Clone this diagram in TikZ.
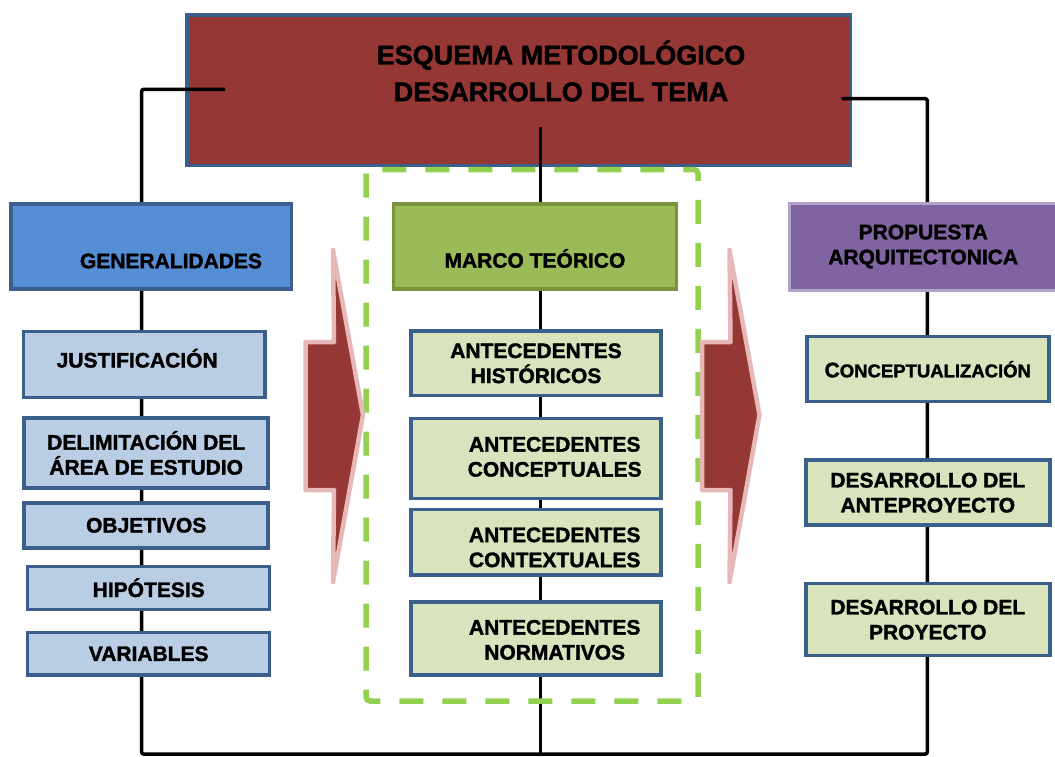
\documentclass[tikz,border=0pt]{standalone}
\usepackage{fontspec}
\setmainfont{Liberation Sans}[BoldFeatures={FakeBold=1.6}]
\usepackage{tikz}
\usetikzlibrary{positioning}

\definecolor{titlered}{HTML}{953735}
\definecolor{boxline}{HTML}{3A5F8B}
\definecolor{genblue}{HTML}{558ED5}
\definecolor{lightblue}{HTML}{B9CDE5}
\definecolor{marcogreen}{HTML}{9BBB59}
\definecolor{marcoline}{HTML}{77933C}
\definecolor{lightgreen}{HTML}{D7E4BD}
\definecolor{propviolet}{HTML}{8064A2}
\definecolor{propline}{HTML}{B3A2C7}
\definecolor{arrowpink}{HTML}{E6B9B8}
\definecolor{dashgreen}{HTML}{92D050}

\tikzset{
  boxtxt/.style={font=\fontsize{21}{25}\selectfont\bfseries, align=center},
  box/.style={rectangle, draw=boxline, line width=3.5pt, inner sep=2pt, boxtxt},
  link/.style={line width=3.5pt, black, rounded corners=2pt},
  bigarrow/.style={fill=titlered, draw=arrowpink, line width=4.5pt, line join=round},
}

\begin{document}
\begin{tikzpicture}[x=1pt,y=-1pt]
\useasboundingbox (0,0) rectangle (1055,756);

\node[box, fill=titlered, minimum width=663.5, minimum height=150.5,
      label={[font=\fontsize{27}{36.7}\selectfont\bfseries, align=center, xshift=42.5pt, yshift=19pt]center:ESQUEMA METODOL\'OGICO\\DESARROLLO DEL TEMA}]
      (title) at (518.5,90) {};

\coordinate (t-l) at (225,89.3);
\coordinate (t-r) at (841.7,98.7);
\coordinate (t-c) at (540.7,126.7);
\coordinate (b-l) at (141.7,754);
\coordinate (b-r) at (927.3,754);
\coordinate (b-c) at (540.7,754);

\draw[link] (t-l) -| (b-l) -- (b-r) |- (t-r);
\draw[link] (t-c) -- (b-c);

\draw[dashgreen, line width=5.5pt, dash pattern=on 24pt off 19pt, rounded corners=4pt]
  (366,169.5) rectangle (698,701);

\foreach \dx in {0,396.5}
  \draw[bigarrow, xshift=\dx pt] (305.5,342) -- (334,342) -- (333,250) -- (363,415)
    -- (333,582) -- (334,490) -- (305.5,490) -- cycle;

\node[box, fill=genblue, minimum width=280.5, minimum height=85,
      label={[boxtxt, xshift=19.7pt, yshift=-14.5pt]center:GENERALIDADES}] (gen) at (151.3,246.5) {};
\node[box, fill=marcogreen, draw=marcoline, minimum width=283, minimum height=85,
      label={[boxtxt, yshift=-12pt]center:MARCO TE\'ORICO}] (marco) [right=98.4pt of gen] {};
\node[box, fill=propviolet, draw=propline, line width=3pt, minimum width=267, minimum height=87]
      (prop) [right=110pt of marco] {PROPUESTA\\ARQUITECTONICA};

\node[box, fill=lightblue, minimum width=241.5, minimum height=66,
      label={[boxtxt, xshift=-7pt, yshift=6.4pt]center:JUSTIFICACI\'ON}] (just) at (144.2,364.7) {};
\node[box, fill=lightblue, minimum width=244, minimum height=70] (delim) [below=16.7pt of just, xshift=2pt] {DELIMITACI\'ON DEL\\\'AREA DE ESTUDIO};
\node[box, fill=lightblue, minimum width=244, minimum height=45] (obj) [below=11.4pt of delim] {OBJETIVOS};
\node[box, fill=lightblue, minimum width=242, minimum height=43] (hip) [below=15pt of obj, xshift=2.5pt] {HIP\'OTESIS};
\node[box, fill=lightblue, minimum width=242, minimum height=42.5] (var) [below=19.7pt of hip] {VARIABLES};

\node[box, fill=lightgreen, minimum width=250, minimum height=64.5] (hist) at (536,363.3) {ANTECEDENTES\\HIST\'ORICOS};
\node[box, fill=lightgreen, minimum width=250, minimum height=80,
      label={[boxtxt, xshift=18.7pt, yshift=1.6pt]center:ANTECEDENTES\\CONCEPTUALES}] (conc) [below=19.4pt of hist] {};
\node[box, fill=lightgreen, minimum width=250, minimum height=65.5,
      label={[boxtxt, xshift=18.7pt, yshift=-5pt]center:ANTECEDENTES\\CONTEXTUALES}] (cont) [below=7.7pt of conc] {};
\node[box, fill=lightgreen, minimum width=250, minimum height=73,
      label={[boxtxt, xshift=18.7pt, yshift=-1.4pt]center:ANTECEDENTES\\NORMATIVOS}] (norm) [below=23.3pt of cont] {};

\node[box, fill=lightgreen, minimum width=242, minimum height=65, font=\fontsize{18.5}{25}\selectfont\bfseries]
      (concep) at (927.8,369.2) {{\fontsize{21}{25}\selectfont C}ONCEPTUALIZACI\'ON};
\node[box, fill=lightgreen, minimum width=244, minimum height=65] (desant) [below=55pt of concep] {DESARROLLO DEL\\ANTEPROYECTO};
\node[box, fill=lightgreen, minimum width=244, minimum height=72] (desproy) [below=55pt of desant] {DESARROLLO DEL\\PROYECTO};

\end{tikzpicture}
\end{document}
